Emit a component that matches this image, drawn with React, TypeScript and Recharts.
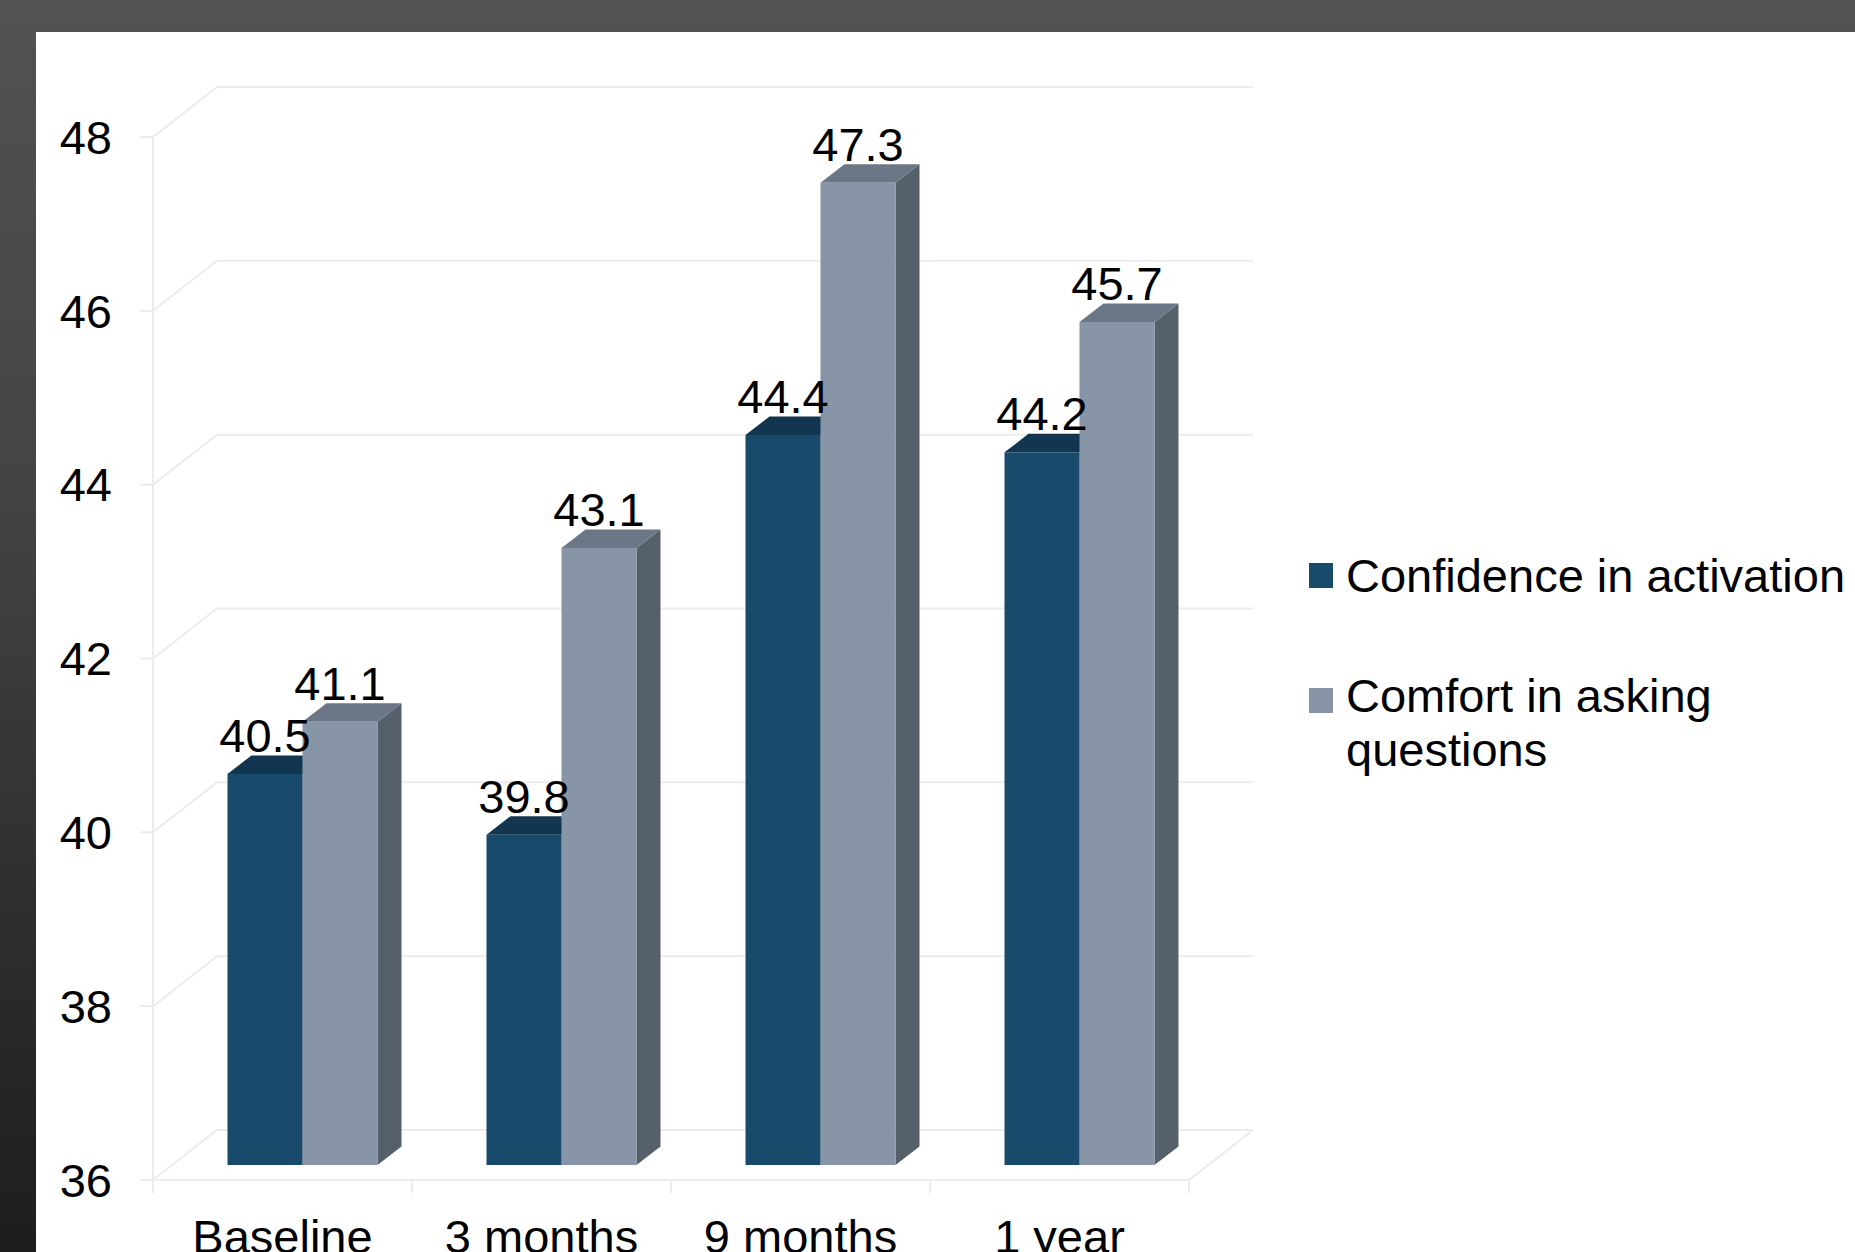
import { Bar, BarChart, CartesianGrid, LabelList, Legend, XAxis, YAxis } from 'recharts';

const categories = ['Baseline', '3 months', '9 months', '1 year'];
const seriesNames = ['Confidence in activation', 'Comfort in asking questions'];
const confidenceInActivation = [40.5, 39.8, 44.4, 44.2];
const comfortInAskingQuestions = [41.1, 43.1, 47.3, 45.7];
const yTicks = [36, 38, 40, 42, 44, 46, 48];

const chartData = categories.map((period, i) => ({
  period,
  confidence: confidenceInActivation[i],
  comfort: comfortInAskingQuestions[i],
}));

const FONT = '"Liberation Sans", Arial, sans-serif';
const GRID = '#ececec';

// fake 3d: back wall offset and bar offset/depth
const WALL_DX = 64;
const WALL_DY = -50;
const BAR_SHIFT_X = 19.5;
const BAR_SHIFT_Y = -15;
const BAR_DEPTH_X = 24;
const BAR_DEPTH_Y = -18.5;

function wallLine(props: any) {
  const { x1, y1, x2 } = props;
  return (
    <polyline
      key={`wall-${y1}`}
      points={`${x1},${y1} ${x1 + WALL_DX},${y1 + WALL_DY} ${x2 + WALL_DX},${y1 + WALL_DY}`}
      fill="none"
      stroke={GRID}
      strokeWidth={2}
    />
  );
}

function makeBox(front: string, top: string, side: string) {
  return (props: any) => {
    const { x, y, width, height } = props;
    const fx = x + BAR_SHIFT_X;
    const fy = y + BAR_SHIFT_Y;
    const rx = fx + width;
    return (
      <g>
        <polygon
          points={`${rx},${fy} ${rx + BAR_DEPTH_X},${fy + BAR_DEPTH_Y} ${rx + BAR_DEPTH_X},${fy + height + BAR_DEPTH_Y} ${rx},${fy + height}`}
          fill={side}
        />
        <polygon
          points={`${fx},${fy} ${fx + BAR_DEPTH_X},${fy + BAR_DEPTH_Y} ${rx + BAR_DEPTH_X},${fy + BAR_DEPTH_Y} ${rx},${fy}`}
          fill={top}
        />
        <rect x={fx} y={fy} width={width} height={height} fill={front} />
      </g>
    );
  };
}

const confidenceBox = makeBox('#184a6b', '#12364f', '#12364f');
const comfortBox = makeBox('#8795a7', '#6b7686', '#56606b');

function renderValueLabel(props: any) {
  const { x, y, width, value } = props;
  return (
    <text
      x={Number(x) + Number(width) / 2 + BAR_SHIFT_X}
      y={Number(y) + BAR_SHIFT_Y - 22}
      textAnchor="middle"
      fontSize={47}
      fontFamily={FONT}
      fill="#000"
    >
      {value}
    </text>
  );
}

function CategoryTick(props: any) {
  const { x, y, payload, index } = props;
  const half = payload?.offset ?? 129.5;
  const isLast = index === categories.length - 1;
  return (
    <g>
      <line x1={x - half} y1={y} x2={x - half} y2={y + 13} stroke={GRID} strokeWidth={2} />
      {isLast && (
        <>
          <line x1={x + half} y1={y} x2={x + half} y2={y + 13} stroke={GRID} strokeWidth={2} />
          <line
            x1={x + half}
            y1={y}
            x2={x + half + WALL_DX}
            y2={y + WALL_DY}
            stroke={GRID}
            strokeWidth={2}
          />
        </>
      )}
      <text x={x} y={y + 73} textAnchor="middle" fontSize={47} fontFamily={FONT} fill="#000">
        {payload.value}
      </text>
    </g>
  );
}

function renderLegend(props: any) {
  const payload = [...(props.payload ?? [])].sort(
    (a: any, b: any) => seriesNames.indexOf(a.value) - seriesNames.indexOf(b.value),
  );
  return (
    <div style={{ fontFamily: FONT, fontSize: 47, lineHeight: '54px', color: '#000' }}>
      {payload.map((entry: any, i: number) => (
        <div key={entry.value} style={{ display: 'flex', alignItems: 'flex-start', marginBottom: 66 }}>
          <span
            style={{
              width: 24,
              height: 25,
              background: entry.color,
              marginTop: i === 0 ? 14 : 19,
              marginRight: 13,
              flex: 'none',
            }}
          />
          <span style={{ width: 520 }}>{entry.value}</span>
        </div>
      ))}
    </div>
  );
}

export default function App() {
  return (
    <div
      style={{
        position: 'absolute',
        left: 0,
        top: 0,
        width: 1855,
        height: 1252,
        overflow: 'hidden',
        background: 'linear-gradient(180deg, #525252 0%, #434343 40%, #1d1d1d 100%)',
      }}
    >
      <div style={{ position: 'absolute', left: 36, top: 32, right: 0, bottom: 0, background: '#fff' }} />
      <div style={{ position: 'absolute', left: 0, top: 0 }}>
        <BarChart
          width={1855}
          height={1252}
          data={chartData}
          margin={{ top: 137, right: 666, bottom: 12, left: 33 }}
          barGap={0}
          barSize={75}
        >
          <CartesianGrid vertical={false} horizontal={wallLine} />
          <XAxis
            dataKey="period"
            height={60}
            interval={0}
            axisLine={{ stroke: GRID, strokeWidth: 2 }}
            tickLine={false}
            tickSize={0}
            tickMargin={0}
            tick={CategoryTick}
          />
          <YAxis
            type="number"
            domain={[36, 48]}
            ticks={yTicks}
            width={120}
            axisLine={{ stroke: GRID, strokeWidth: 2 }}
            tickLine={{ stroke: GRID, strokeWidth: 2 }}
            tickSize={13}
            tickMargin={28}
            tick={{ fill: '#000', fontSize: 47, fontFamily: FONT }}
          />
          <Legend
            layout="horizontal"
            align="center"
            verticalAlign="middle"
            content={renderLegend}
            wrapperStyle={{ left: 1309, top: 549, width: 546 }}
          />
          <Bar
            dataKey="confidence"
            name={seriesNames[0]}
            fill="#184a6b"
            shape={confidenceBox}
            isAnimationActive={false}
          >
            <LabelList dataKey="confidence" content={renderValueLabel} />
          </Bar>
          <Bar
            dataKey="comfort"
            name={seriesNames[1]}
            fill="#8795a7"
            shape={comfortBox}
            isAnimationActive={false}
          >
            <LabelList dataKey="comfort" content={renderValueLabel} />
          </Bar>
        </BarChart>
      </div>
    </div>
  );
}
